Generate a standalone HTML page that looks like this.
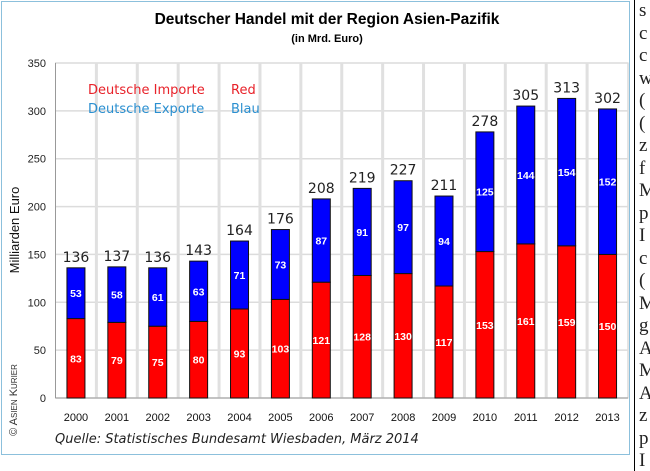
<!DOCTYPE html>
<html><head><meta charset="utf-8"><style>
body{margin:0;width:650px;height:471px;background:#fff;overflow:hidden;position:relative;font-family:"Liberation Sans",sans-serif}
#frame{position:absolute;left:1px;top:1px;width:629px;height:454px;border:1px solid #8cc0dc;box-sizing:border-box}
#side{position:absolute;left:634px;top:0;width:1px;height:471px;background:#000}
.sl{position:absolute;left:639px;font-family:"Liberation Serif",serif;font-size:19px;line-height:20px;color:#222}
</style></head><body>
<div id="frame"></div>
<div id="side"></div>
<div id="sidetext"></div>
<svg id="c" width="650" height="471" style="position:absolute;left:0;top:0"></svg>
<script>
const years=["2000","2001","2002","2003","2004","2005","2006","2007","2008","2009","2010","2011","2012","2013"];
const imports=[83,79,75,80,93,103,121,128,130,117,153,161,159,150];
const exports=[53,58,61,63,71,73,87,91,97,94,125,144,154,152];
const totals=[136,137,136,143,164,176,208,219,227,211,278,305,313,302];
const yTicks=[0,50,100,150,200,250,300,350];
const sideLetters=["s","c","c","w","(","(","z","f","M","p","I","c","(","M","g","A","M","A","z","p","I"];

const NS="http://www.w3.org/2000/svg";
const svg=document.getElementById('c');
const L=55.5,R=628,T=63,B=398,yMax=350;
const step=(R-L)/years.length;
const y=v=>B-(v/yMax)*(B-T);
const xc=i=>L+step*(i+0.5);
function mk(tag,a,txt){const e=document.createElementNS(NS,tag);for(const k in a)e.setAttribute(k,a[k]);if(txt!=null)e.textContent=txt;svg.appendChild(e);return e;}
const DV='"DejaVu Sans",sans-serif';

let e=mk('rect',{x:L,y:T,width:R-L,height:B-T,fill:'#fff',stroke:'#c8c8c8'});

yTicks.forEach(t=>{
  let g=mk('line',{x1:L,x2:R,y1:y(t),y2:y(t),stroke:'#dcdcdc','stroke-width':1.5});
  
  let l=mk('text',{x:46,y:y(t)+4,'text-anchor':'end','font-size':11,fill:'#222'},t);
  
});
for(let i=1;i<years.length;i++){
  let g=mk('line',{x1:L+step*i,x2:L+step*i,y1:T,y2:B,stroke:'#e0e0e0','stroke-width':3});
  
}
e=mk('line',{x1:L,x2:L,y1:T,y2:B,stroke:'#999'});
e=mk('line',{x1:L,x2:R,y1:B,y2:B,stroke:'#999'});

const bw=18;
years.forEach((yr,i)=>{
  const x=xc(i)-bw/2;
  let r=mk('rect',{x:x,y:y(imports[i]),width:bw,height:B-y(imports[i]),fill:'#ff0000',stroke:'#111','stroke-width':1});
  
  let b=mk('rect',{x:x,y:y(imports[i]+exports[i]),width:bw,height:y(imports[i])-y(imports[i]+exports[i]),fill:'#0000ff',stroke:'#111','stroke-width':1});
  
  let t=mk('text',{x:xc(i),y:y(imports[i]/2)+4,'text-anchor':'middle','font-size':10.5,'font-weight':'bold',fill:'#fff'},imports[i]);
  
  t=mk('text',{x:xc(i),y:y(imports[i]+exports[i]/2)+4,'text-anchor':'middle','font-size':10.5,'font-weight':'bold',fill:'#fff'},exports[i]);
  
  t=mk('text',{x:xc(i),y:y(totals[i])-6,'text-anchor':'middle','font-size':14,'font-family':DV,fill:'#222'},totals[i]);
  
  t=mk('text',{x:xc(i),y:421,'text-anchor':'middle','font-size':11,fill:'#111'},yr);
  
});

e=mk('text',{x:327,y:24,'text-anchor':'middle','font-size':15.5,'font-weight':'bold',fill:'#000'},'Deutscher Handel mit der Region Asien-Pazifik');

e=mk('text',{x:327,y:42,'text-anchor':'middle','font-size':11,'font-weight':'bold',fill:'#000'},'(in Mrd. Euro)');

e=mk('text',{x:88,y:94,'font-size':13,'font-family':DV,fill:'#e8222a'},'Deutsche Importe');

e=mk('text',{x:231,y:94,'font-size':13,'font-family':DV,fill:'#e8222a'},'Red');

e=mk('text',{x:88,y:113,'font-size':13,'font-family':DV,fill:'#2a8fd0'},'Deutsche Exporte');

e=mk('text',{x:231,y:113,'font-size':13,'font-family':DV,fill:'#2a8fd0'},'Blau');

e=mk('text',{x:19,y:230,'text-anchor':'middle','font-size':13,fill:'#111',transform:'rotate(-90 19 230)'},'Milliarden Euro');

e=mk('text',{x:17,y:400,'text-anchor':'middle','font-size':11,'font-variant':'small-caps',fill:'#333',transform:'rotate(-90 17 400)'},'© Asien Kurier');

e=mk('text',{x:55,y:443,'font-size':13,'font-style':'italic','font-family':DV,fill:'#222'},'Quelle: Statistisches Bundesamt Wiesbaden, März 2014');


const st=document.getElementById('sidetext');
sideLetters.forEach((s,i)=>{
  const d=document.createElement('div');d.className='sl';d.style.top=(i*22.5+1)+'px';d.textContent=s;
  
  
  st.appendChild(d);
});
</script>
</body></html>
